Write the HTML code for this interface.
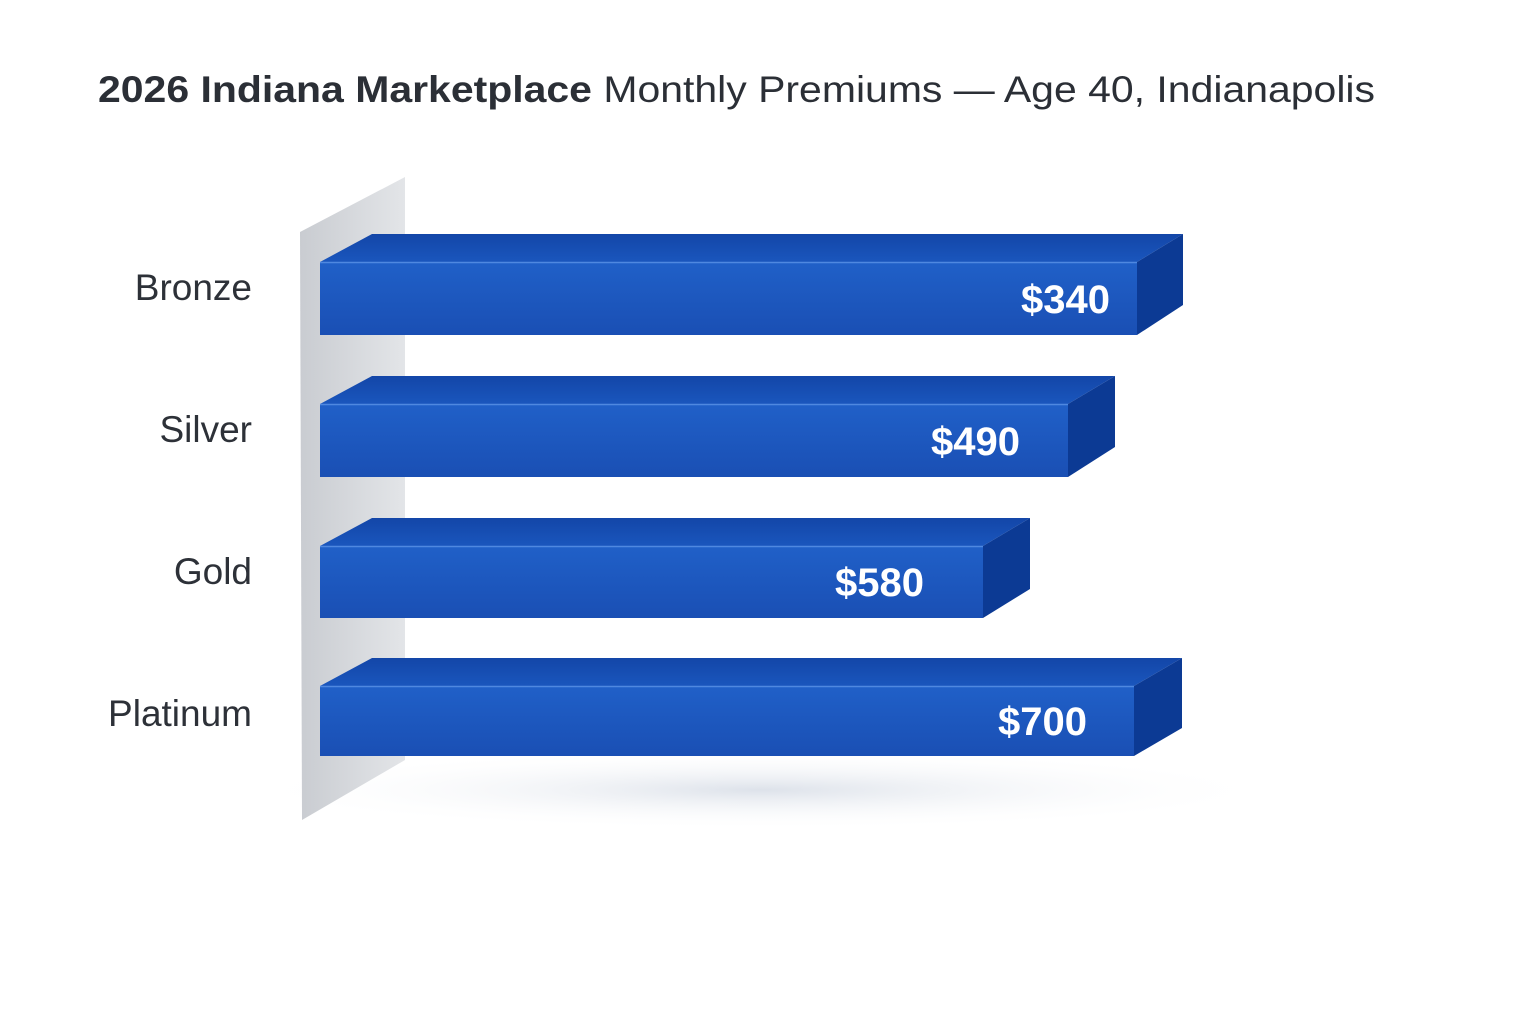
<!DOCTYPE html>
<html><head><style>
html,body{margin:0;padding:0;background:#fff;}
svg{display:block}
</style></head><body>
<svg width="1536" height="1024" viewBox="0 0 1536 1024" xmlns="http://www.w3.org/2000/svg">
<defs>
<linearGradient id="wall" x1="0" y1="0" x2="1" y2="0">
<stop offset="0" stop-color="#c9ccd1"/><stop offset="1" stop-color="#e3e5e8"/>
</linearGradient>
<linearGradient id="front" x1="0" y1="0" x2="0" y2="1">
<stop offset="0" stop-color="#2060c8"/><stop offset="1" stop-color="#1a4fb4"/>
</linearGradient>
<linearGradient id="top" x1="0" y1="0" x2="0" y2="1">
<stop offset="0" stop-color="#1346a8"/><stop offset="1" stop-color="#1a56bd"/>
</linearGradient>
<radialGradient id="sh" cx="0.5" cy="0.5" r="0.5">
<stop offset="0" stop-color="#dde2ea"/><stop offset="1" stop-color="#ffffff" stop-opacity="0"/>
</radialGradient>
</defs>
<rect width="1536" height="1024" fill="#fff"/>
<ellipse cx="760" cy="790" rx="520" ry="40" fill="url(#sh)"/>
<polygon points="300,232 405,177 405,760 302,820" fill="url(#wall)"/>
<text x="98" y="102" font-family="Liberation Sans, sans-serif" font-size="37" fill="#2b2f36" textLength="1277" lengthAdjust="spacingAndGlyphs"><tspan font-weight="bold">2026 Indiana Marketplace</tspan> Monthly Premiums — Age 40, Indianapolis</text>
<g font-family="Liberation Sans, sans-serif" font-size="37" fill="#2d3138" text-anchor="end">
<text x="252" y="300">Bronze</text>
<text x="252" y="442">Silver</text>
<text x="252" y="584">Gold</text>
<text x="252" y="726">Platinum</text>
</g>
<g font-family="Liberation Sans, sans-serif" font-size="40" font-weight="bold" fill="#fff" text-anchor="end">
<polygon points="320,262 372,234 1183,234 1137,262" fill="url(#top)"/>
<polygon points="1137,262 1183,234 1183,305 1137,335" fill="#0c3a94"/>
<rect x="320" y="262" width="817" height="73" fill="url(#front)"/>
<line x1="320" y1="262.5" x2="1137" y2="262.5" stroke="#4f88e0" stroke-width="1.5"/>
<text x="1110" y="313">$340</text>
<polygon points="320,404 372,376 1115,376 1068,404" fill="url(#top)"/>
<polygon points="1068,404 1115,376 1115,447 1068,477" fill="#0c3a94"/>
<rect x="320" y="404" width="748" height="73" fill="url(#front)"/>
<line x1="320" y1="404.5" x2="1068" y2="404.5" stroke="#4f88e0" stroke-width="1.5"/>
<text x="1020" y="455">$490</text>
<polygon points="320,546 372,518 1030,518 983,546" fill="url(#top)"/>
<polygon points="983,546 1030,518 1030,589 983,618" fill="#0c3a94"/>
<rect x="320" y="546" width="663" height="72" fill="url(#front)"/>
<line x1="320" y1="546.5" x2="983" y2="546.5" stroke="#4f88e0" stroke-width="1.5"/>
<text x="924" y="596">$580</text>
<polygon points="320,686 372,658 1182,658 1134,686" fill="url(#top)"/>
<polygon points="1134,686 1182,658 1182,728 1134,756" fill="#0c3a94"/>
<rect x="320" y="686" width="814" height="70" fill="url(#front)"/>
<line x1="320" y1="686.5" x2="1134" y2="686.5" stroke="#4f88e0" stroke-width="1.5"/>
<text x="1087" y="735">$700</text>
</g>
</svg>
</body></html>
